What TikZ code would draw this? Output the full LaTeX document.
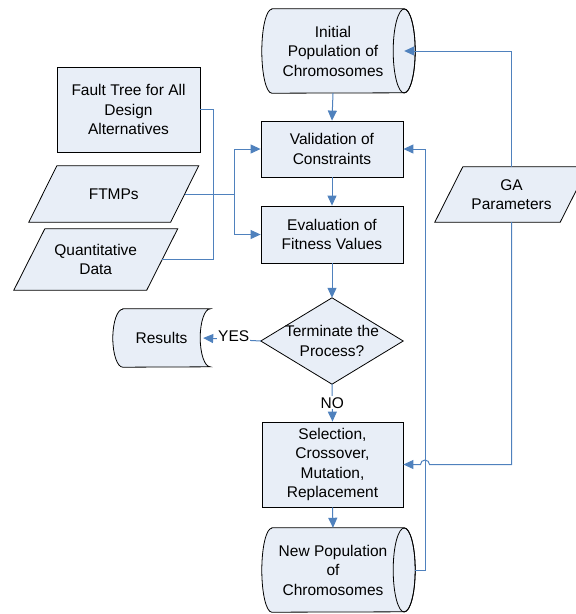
\documentclass[tikz,border=0pt]{standalone}
\usepackage{fontspec}
\setmainfont{Liberation Sans}
\usetikzlibrary{arrows.meta,calc}
\definecolor{boxfill}{RGB}{232,238,247}
\definecolor{flow}{RGB}{79,129,189}
\begin{document}
\begin{tikzpicture}[x=1pt,y=-1pt,
  txt/.style={font=\fontsize{15.5}{19.5}\selectfont, align=center, inner sep=0pt},
  box/.style={txt, rectangle, draw=black, fill=boxfill, line width=0.8pt},
  frame/.style={txt, rectangle},
  outline/.style={draw=black, fill=boxfill, line width=0.8pt},
  link/.style={draw=flow, line width=1pt},
  arr/.style={link, -{Triangle[length=10pt,width=9pt]}},
  tag/.style={txt, fill=white, inner sep=1pt}]
\useasboundingbox (0,0) rectangle (576,614);

% ---------- shapes drawn as outlines around invisible frames ----------
% drum (direct access storage): curved left side, elliptic right face
\newcommand\drumoutline[1]{%
  \path[outline] ([xshift=10pt]#1.north west) -- (#1.north east)
    arc[start angle=90, end angle=-90, x radius=11pt, y radius=42pt]
    -- ([xshift=10pt]#1.south west)
    arc[start angle=270, end angle=90, x radius=10pt, y radius=42pt] -- cycle;
  \draw[black, line width=0.8pt] (#1.east) ellipse[x radius=11pt, y radius=42pt];}
% slanted data box
\newcommand\dataoutline[2]{%
  \path[outline] ([xshift=#2]#1.north west) -- ([xshift=#2]#1.north east)
    -- ([xshift=-#2]#1.south east) -- ([xshift=-#2]#1.south west) -- cycle;}

% frames for the non-rectangular nodes
\node[frame, minimum width=142pt, minimum height=84pt] (init) at (333,51) {};
\node[frame, minimum width=142pt, minimum height=84pt] (newpop) at (333,570) {};
\node[frame, minimum width=142pt, minimum height=86pt] (dec) at (332,341) {};
\node[frame, minimum width=97pt, minimum height=58pt] (res) at (161.5,338) {};
\node[frame, minimum width=141.5pt, minimum height=56pt] (ftmps) at (113.75,194) {};
\node[frame, minimum width=132.5pt, minimum height=61pt] (quant) at (95.75,259.5) {};
\node[frame, minimum width=125pt, minimum height=55pt] (ga) at (511.5,194.5) {};

\drumoutline{init}
\drumoutline{newpop}
\path[outline] (dec.north) -- (dec.east) -- (dec.south) -- (dec.west) -- cycle;
\path[outline] ([xshift=10pt]res.north west) -- (res.north east)
  arc[start angle=90, end angle=270, x radius=10pt, y radius=29pt]
  -- ([xshift=10pt]res.south west)
  arc[start angle=270, end angle=90, x radius=10pt, y radius=29pt] -- cycle;
\dataoutline{ftmps}{14pt}
\dataoutline{quant}{15.5pt}
\dataoutline{ga}{14pt}

% texts of the drawn shapes
\node[txt] at (init) {Initial\\Population of\\Chromosomes};
\node[txt] at (newpop) {New Population\\of\\Chromosomes};
\node[txt] at (dec) {Terminate the\\Process?};
\node[txt] at (res) {Results};
\node[txt] at (ftmps) {FTMPs};
\node[txt] at (quant) {Quantitative\\Data};
\node[txt] at (ga) {GA\\Parameters};

% ---------- rectangular process boxes ----------
\node[box, minimum width=142pt, minimum height=56pt] (val) at (332,149) {Validation of\\Constraints};
\node[box, minimum width=142pt, minimum height=57pt] (eval) at (332,234.5) {Evaluation of\\Fitness Values};
\node[box, minimum width=141pt, minimum height=85pt] (sel) at (332.5,464.5) {Selection,\\Crossover,\\Mutation,\\Replacement};
\node[box, minimum width=143pt, minimum height=85pt] (ft) at (128.5,109.5) {Fault Tree for All\\Design\\Alternatives};

% ---------- bend points ----------
\coordinate (ftjoin) at (213,200);
\coordinate (split) at (234,194);
\coordinate (loop) at (425,300);

% ---------- main flow ----------
\draw[arr] (init.south) -- (val.north);
\draw[arr] (val.south) -- (eval.north);
\draw[arr] (eval.south) -- (dec.north);
\draw[arr] (dec.south) -- node[tag] {NO} (sel.north);
\draw[arr] (dec.west) -- node[tag, pos=0.47, yshift=3pt] {YES} ([xshift=-7pt]res.east);
\draw[arr] (sel.south) -- (newpop.north);

% ---------- inputs ----------
\draw[link] (ft.east) -- (ft.east -| ftjoin) |- (quant.east);
\draw[link] (ftmps.east) -- (split);
\draw[arr] (split) |- (val.west);
\draw[arr] (split) |- (eval.west);

% ---------- GA parameters ----------
\draw[arr] (ga.north) |- (init.east);
\draw[arr] (ga.south) |- ([xshift=4.5pt]loop |- sel.east)
  arc[start angle=0, end angle=180, radius=4.5pt] -- (sel.east);

% ---------- feedback loop ----------
\draw[arr] ([xshift=11pt]newpop.east) -- (loop |- newpop.east) -- (loop |- val.east) -- (val.east);
\end{tikzpicture}
\end{document}
